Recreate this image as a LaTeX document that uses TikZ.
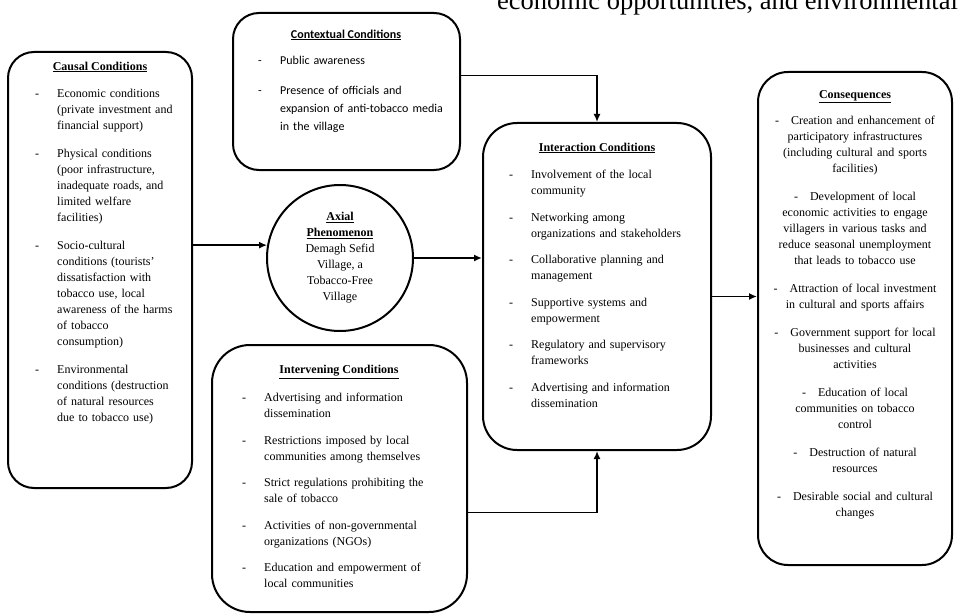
\documentclass[tikz,border=0pt]{standalone}
\usepackage{fontspec}
\setmainfont{Liberation Serif}
\newfontfamily\calibfont{Carlito}
\usetikzlibrary{arrows.meta}

\newcommand{\dashitem}[1]{\hangindent=22pt\hangafter=1\makebox[22pt][l]{-}#1\par}
\newcommand{\centitem}[1]{-\hspace{12pt}#1\par}

\begin{document}
\begin{tikzpicture}[x=1pt,y=-1pt]
    \tikzstyle{block}=[draw, line width=2pt, inner sep=0pt, rounded corners=26pt]
    \tikzstyle{heading}=[inner sep=0pt, font=\fontsize{12}{16}\selectfont\bfseries]
    \tikzstyle{items}=[anchor=north west, inner sep=0pt, align=left, font=\fontsize{12}{16}\selectfont]
    \tikzstyle{link}=[-{Latex[length=8pt,width=7pt]}, line width=1.6pt]
    \useasboundingbox (0,0) rectangle (958,615);
    % Cut-off line of the page text above the figure
    \begin{scope}
        \clip (0,0) rectangle (958,615);
        \node[anchor=base west, inner sep=0pt, font=\fontsize{26.5}{30}\selectfont] (runon) at (497,10) {economic opportunities, and environmental};
    \end{scope}
    % Draw the boxes
    \node[block, minimum width=184pt, minimum height=436pt] (causal) at (100,270) {};
    \node[block, minimum width=227pt, minimum height=157pt] (context) at (346.5,91.5) {};
    \node[block, minimum width=228pt, minimum height=327pt, rounded corners=34pt] (inter) at (597,286.5) {};
    \node[block, minimum width=255pt, minimum height=267pt, rounded corners=38pt] (interv) at (339.5,478.5) {};
    \node[block, minimum width=194pt, minimum height=493pt, rounded corners=30pt] (conseq) at (855,318.5) {};
    \node[draw, circle, line width=2pt, minimum size=146pt, inner sep=0pt, align=center,
          font=\fontsize{12}{16}\selectfont] (axial) at (340,258)
        {\underline{\textbf{Axial}}\\\underline{\textbf{Phenomenon}}\\Demagh Sefid\\Village, a\\Tobacco-Free\\Village};
    % Headings
    \node[heading] (causal-h) at (100,67) {\underline{Causal Conditions}};
    \node[heading, font=\calibfont\fontsize{12}{16}\selectfont\bfseries] (context-h) at (346,35) {\underline{Contextual Conditions}};
    \node[heading] (inter-h) at (597,148) {\underline{Interaction Conditions}};
    \node[heading] (interv-h) at (339,372) {\underline{Intervening Conditions}};
    \node[heading] (conseq-h) at (855,97) {\underline{Consequences}};
    % Lists
    \node[items, text width=150pt] (causal-l) at (35,89) {\setlength{\parskip}{12pt}%
        \dashitem{Economic conditions\newline(private investment and\newline financial support)}
        \dashitem{Physical conditions\newline(poor infrastructure,\newline inadequate roads, and\newline limited welfare\newline facilities)}
        \dashitem{Socio-cultural\newline conditions (tourists'\newline dissatisfaction with\newline tobacco use, local\newline awareness of the harms\newline of tobacco\newline consumption)}
        \dashitem{Environmental\newline conditions (destruction\newline of natural resources\newline due to tobacco use)}};
    \node[items, text width=200pt, font=\calibfont\fontsize{12}{18}\selectfont] (context-l) at (258,56) {\setlength{\parskip}{12pt}%
        \dashitem{Public awareness}
        \dashitem{Presence of officials and\newline expansion of anti-tobacco media\newline in the village}};
    \node[items, text width=200pt] (inter-l) at (509,170) {\setlength{\parskip}{10.5pt}%
        \dashitem{Involvement of the local\newline community}
        \dashitem{Networking among\newline organizations and stakeholders}
        \dashitem{Collaborative planning and\newline management}
        \dashitem{Supportive systems and\newline empowerment}
        \dashitem{Regulatory and supervisory\newline frameworks}
        \dashitem{Advertising and information\newline dissemination}};
    \node[items, text width=220pt] (interv-l) at (242,393) {\setlength{\parskip}{10.5pt}%
        \dashitem{Advertising and information\newline dissemination}
        \dashitem{Restrictions imposed by local\newline communities among themselves}
        \dashitem{Strict regulations prohibiting the\newline sale of tobacco}
        \dashitem{Activities of non-governmental\newline organizations (NGOs)}
        \dashitem{Education and empowerment of\newline local communities}};
    \node[items, anchor=north, text width=200pt, align=center] (conseq-l) at (855,116) {\setlength{\parskip}{12pt}%
        \centitem{Creation and enhancement of\\participatory infrastructures\\(including cultural and sports\\facilities)}
        \centitem{Development of local\\economic activities to engage\\villagers in various tasks and\\reduce seasonal unemployment\\that leads to tobacco use}
        \centitem{Attraction of local investment\\in cultural and sports affairs}
        \centitem{Government support for local\\businesses and cultural\\activities}
        \centitem{Education of local\\communities on tobacco\\control}
        \centitem{Destruction of natural\\resources}
        \centitem{Desirable social and cultural\\changes}};
    % Connect the boxes
    \draw[link] (causal.east |- axial.170) -- (axial.170);
    \draw[link] (axial.east) -- (axial.east -| inter.west);
    \draw[link] ([yshift=16pt]context.east) -| (inter.north);
    \draw[link] ([yshift=-34pt]interv.east) -| (inter.south);
    \coordinate (inter-out) at ([yshift=-10pt]inter.east);
    \draw[link] (inter-out) -- (inter-out -| conseq.west);
\end{tikzpicture}
\end{document}
